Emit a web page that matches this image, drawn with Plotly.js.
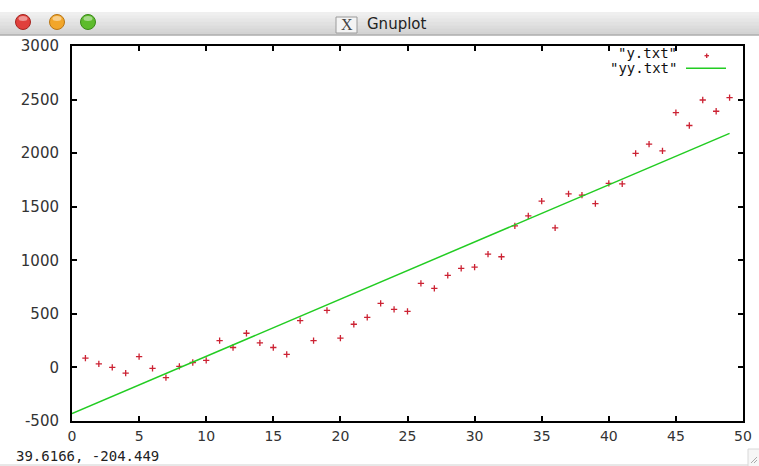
<!DOCTYPE html>
<html>
<head>
<meta charset="utf-8">
<script src="https://cdn.plot.ly/plotly-3.0.1.min.js"></script>
<style>html,body{margin:0;padding:0;background:#fff;}#chart{width:759px;height:466px;}</style>
</head>
<body>
<div id="chart"></div>
<script>
// Data series "y.txt" (points)
const xVals = [1,2,3,4,5,6,7,8,9,10,11,12,13,14,15,16,17,18,19,20,21,22,23,24,25,26,27,28,29,30,31,32,33,34,35,36,37,38,39,40,41,42,43,44,45,46,47,48,49];
const yVals = [87,34,0,-53,100,-9,-96,9,46,65,251,186,319,230,186,121,437,251,533,273,403,468,598,542,524,784,738,859,924,937,1058,1033,1321,1414,1553,1302,1619,1609,1528,1718,1714,1997,2084,2021,2379,2258,2496,2391,2518];
// Data series "yy.txt" (fitted line)
const fitX = [0, 49];
const fitY = [-430, 2185];
// Tick labels
const xTicks = [0,5,10,15,20,25,30,35,40,45,50];
const yTicks = [-500,0,500,1000,1500,2000,2500,3000];
const seriesNames = ['"y.txt"', '"yy.txt"'];
const windowTitle = 'Gnuplot';
const statusText = '39.6166, -204.449';

// pixel -> paper helpers (plot area 72..743 x 46..421)
const L = 72, T = 46, W = 671, H = 375;
const fx = p => (p - L) / W;
const fy = p => (T + H - p) / H;

const shapes = [];
const annotations = [];

// Title bar gradient
const barCols = ['#efefef','#ebebeb','#e6e6e6','#e1e1e1','#dcdcdc','#d7d7d7','#d3d3d3'];
const barTop = 12, barBot = 35;
const step = (barBot - barTop) / barCols.length;
barCols.forEach((c, i) => {
  shapes.push({type:'rect', xref:'paper', yref:'paper', layer:'below',
    x0: fx(0), x1: fx(759), y0: fy(barTop + i*step), y1: fy(barTop + (i+1)*step + 0.5),
    fillcolor: c, line: {width: 0}});
});
shapes.push({type:'line', xref:'paper', yref:'paper', x0: fx(0), x1: fx(759), y0: fy(35), y1: fy(35), line:{color:'#9a9a9a', width:1}});
// Traffic lights
[[23,'#e0403c','#a52520'],[57,'#f2a62a','#b87515'],[88,'#5dbb2c','#3a8a18']].forEach(([cx, fill, edge]) => {
  shapes.push({type:'circle', xref:'paper', yref:'paper', x0: fx(cx-7.5), x1: fx(cx+7.5), y0: fy(22-7.5), y1: fy(22+7.5), fillcolor: fill, line:{color: edge, width:1}});
  shapes.push({type:'circle', xref:'paper', yref:'paper', x0: fx(cx-4.5), x1: fx(cx+4.5), y0: fy(16), y1: fy(21), fillcolor: 'rgba(255,255,255,0.45)', line:{width:0}});
});
// X icon box
shapes.push({type:'rect', xref:'paper', yref:'paper', x0: fx(336), x1: fx(357), y0: fy(17), y1: fy(33), fillcolor:'#f4f4f4', line:{color:'#9a9a9a', width:1}});
annotations.push({xref:'paper', yref:'paper', x: fx(346.5), y: fy(25), text:'X', showarrow:false, xanchor:'center', yanchor:'middle',
  font:{family:'Liberation Serif, DejaVu Serif, serif', size:16, color:'#444'}});
annotations.push({xref:'paper', yref:'paper', x: fx(365), y: fy(24), text: windowTitle, showarrow:false, xanchor:'left', yanchor:'middle',
  font:{family:'Lucida Grande, DejaVu Sans, sans-serif', size:15, color:'#222'}});

// Legend
annotations.push({xref:'paper', yref:'paper', x: fx(679), y: fy(53), text: seriesNames[0], showarrow:false, xanchor:'right', yanchor:'middle',
  font:{family:'DejaVu Sans Mono, monospace', size:14, color:'#111'}});
annotations.push({xref:'paper', yref:'paper', x: fx(679), y: fy(68), text: seriesNames[1], showarrow:false, xanchor:'right', yanchor:'middle',
  font:{family:'DejaVu Sans Mono, monospace', size:14, color:'#111'}});
shapes.push({type:'line', xref:'paper', yref:'paper', x0: fx(704.5), x1: fx(709), y0: fy(55.7), y1: fy(55.7), line:{color:'#cc2233', width:1.3}});
shapes.push({type:'line', xref:'paper', yref:'paper', x0: fx(706.7), x1: fx(706.7), y0: fy(53.5), y1: fy(58), line:{color:'#cc2233', width:1.3}});
shapes.push({type:'line', xref:'paper', yref:'paper', x0: fx(686), x1: fx(726), y0: fy(68.3), y1: fy(68.3), line:{color:'#22cc22', width:1.5}});

// Status line
annotations.push({xref:'paper', yref:'paper', x: fx(14), y: fy(466), text: statusText, showarrow:false, xanchor:'left', yanchor:'bottom',
  font:{family:'DejaVu Sans Mono, monospace', size:14, color:'#222'}});
shapes.push({type:'line', xref:'paper', yref:'paper', x0: fx(0), x1: fx(748), y0: fy(465), y1: fy(465), line:{color:'#d0d0d0', width:1}});
shapes.push({type:'rect', xref:'paper', yref:'paper', x0: fx(748), x1: fx(760), y0: fy(449), y1: fy(467), fillcolor:'#f6f6f6', line:{color:'#d8d8d8', width:1}});
shapes.push({type:'line', xref:'paper', yref:'paper', x0: fx(751), x1: fx(757), y0: fy(463), y1: fy(457), line:{color:'#aaaaaa', width:1}});
shapes.push({type:'line', xref:'paper', yref:'paper', x0: fx(754), x1: fx(757), y0: fy(463), y1: fy(460), line:{color:'#aaaaaa', width:1}});

const data = [
  {x: xVals, y: yVals, type:'scatter', mode:'markers', name: seriesNames[0],
   marker:{symbol:'cross-thin', size:4.5, color:'#cc2233', line:{color:'#cc2233', width:1.3}}, cliponaxis:true},
  {x: fitX, y: fitY, type:'scatter', mode:'lines', name: seriesNames[1],
   line:{color:'#22cc22', width:1.5}}
];

const layout = {
  width:759, height:466,
  margin:{l:L, r:759-L-W, t:T, b:466-T-H, pad:0},
  paper_bgcolor:'#ffffff', plot_bgcolor:'#ffffff',
  showlegend:false,
  xaxis:{range:[0,50], tickvals:xTicks, ticktext:xTicks.map(String), showgrid:false, zeroline:false,
    showline:true, linecolor:'#000', linewidth:2, mirror:'allticks', ticks:'inside', ticklen:5, tickwidth:2, tickcolor:'#000',
    tickfont:{family:'DejaVu Sans, sans-serif', size:14, color:'#333'}, ticklabelstandoff:1},
  yaxis:{range:[-500,3000], tickvals:yTicks, ticktext:yTicks.map(String), showgrid:false, zeroline:false,
    showline:true, linecolor:'#000', linewidth:2, mirror:'allticks', ticks:'inside', ticklen:5, tickwidth:2, tickcolor:'#000',
    tickfont:{family:'DejaVu Sans, sans-serif', size:15, color:'#333'}, ticklabelstandoff:8},
  shapes: shapes,
  annotations: annotations
};

Plotly.newPlot('chart', data, layout, {staticPlot:true, displayModeBar:false});
</script>
</body>
</html>
